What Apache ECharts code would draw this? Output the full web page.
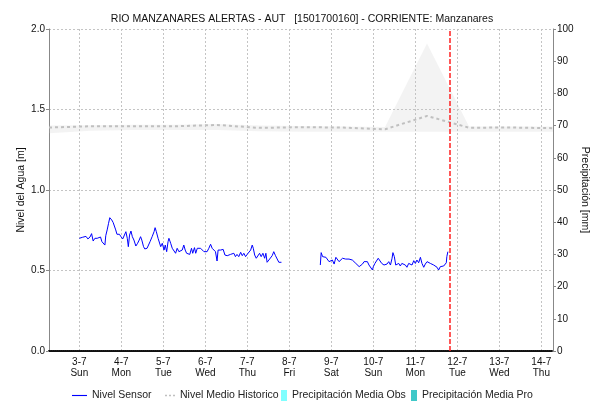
<!DOCTYPE html>
<html>
<head>
<meta charset="utf-8">
<title>RIO MANZANARES ALERTAS - AUT</title>
<script src="https://cdn.jsdelivr.net/npm/echarts@6/dist/echarts.min.js"></script>
<style>
  html, body { margin: 0; padding: 0; background: #fff; }
  #chart { width: 590px; height: 401px; }
</style>
</head>
<body>
<div id="chart"></div>
<script>
// Sensor level: hours since 3-7 00:00 and level in metres (null = no data)
const sensorHours = [
  0, 1.7, 2.7, 3.8, 4.9, 6.1, 7.0, 7.9, 8.9, 10.2, 11.3, 12.1, 12.9, 13.6, 14.0, 14.6, 15.1, 15.9, 16.7, 17.4,
  18.0, 18.5, 19.3, 20.1, 20.8, 21.5, 22.9, 23.8, 24.8, 25.7, 26.6, 27.4, 28.0, 28.7, 29.5, 30.3, 31.2, 32.3, 33.3, 34.2,
  35.0, 35.7, 36.7, 37.4, 38.7, 40.4, 41.6, 42.7, 43.3, 44.0, 45.0, 46.0, 46.5, 47.4, 48.4, 49.1, 49.9, 50.7, 51.2, 52.2,
  53.1, 54.1, 55.0, 55.9, 56.9, 57.9, 58.8, 59.7, 60.5, 61.3, 62.2, 63.1, 64.1, 64.8, 65.8, 66.5, 67.4, 68.3, 69.3, 70.2,
  71.2, 72.1, 73.0, 74.0, 75.0, 75.9, 76.8, 77.8, 78.7, 79.3, 80.7, 82.2, 83.2, 84.5, 85.4, 86.4, 87.3, 88.3, 89.2, 90.1,
  91.1, 92.2, 93.1, 94.0, 95.0, 95.9, 96.9, 97.9, 98.8, 99.4, 100.2, 101.1, 102.1, 103.0, 103.9, 104.9, 105.9, 106.6, 107.3, 108.3,
  109.3, 110.2, 111.1, 112.1, 113.0, 114.0, 115.0, 115.5,
  126,
  137.7, 138.2, 139.0, 139.9, 140.9, 141.8, 142.7, 143.7, 144.6, 145.6, 146.6, 147.5, 148.4, 149.4, 150.4, 151.3, 152.2, 153.2, 154.1, 155.1,
  156.0, 157.0, 158.0, 159.0, 159.9, 160.8, 161.8, 162.7, 163.7, 164.6, 165.5, 166.5, 167.5, 168.0, 168.9, 169.9, 170.8, 171.9, 172.8, 174.1,
  175.8, 176.8, 177.8, 178.7, 179.2, 180.0, 180.8, 181.5, 182.5, 183.4, 184.3, 185.3, 186.3, 187.2, 188.2, 189.2, 190.1, 191.1, 192.0, 192.9,
  193.9, 194.9, 195.8, 196.8, 197.7, 198.7, 199.7, 200.6, 201.5, 202.5, 203.5, 204.4, 205.3, 206.3, 207.2, 208.2, 209.1, 209.7, 210.0, 210.6
];
const sensorLevel = [
  0.700, 0.706, 0.700, 0.712, 0.696, 0.708, 0.729, 0.683, 0.700, 0.700, 0.689, 0.708, 0.679, 0.671, 0.689, 0.658, 0.716, 0.752, 0.793, 0.828,
  0.840, 0.814, 0.799, 0.799, 0.752, 0.725, 0.725, 0.710, 0.696, 0.700, 0.741, 0.700, 0.648, 0.720, 0.745, 0.710, 0.689, 0.652, 0.669, 0.689,
  0.710, 0.689, 0.648, 0.634, 0.638, 0.679, 0.710, 0.741, 0.766, 0.741, 0.700, 0.689, 0.648, 0.669, 0.627, 0.658, 0.617, 0.679, 0.700, 0.669,
  0.638, 0.627, 0.607, 0.638, 0.617, 0.617, 0.627, 0.658, 0.627, 0.607, 0.617, 0.600, 0.638, 0.607, 0.642, 0.607, 0.638, 0.642, 0.638, 0.627,
  0.617, 0.627, 0.617, 0.638, 0.663, 0.638, 0.627, 0.617, 0.559, 0.627, 0.627, 0.631, 0.596, 0.592, 0.586, 0.600, 0.596, 0.607, 0.586, 0.600,
  0.586, 0.613, 0.592, 0.607, 0.586, 0.600, 0.592, 0.627, 0.658, 0.638, 0.596, 0.576, 0.586, 0.607, 0.586, 0.607, 0.576, 0.607, 0.551, 0.565,
  0.576, 0.592, 0.617, 0.592, 0.580, 0.551, 0.551, 0.551,
  null,
  0.534, 0.611, 0.586, 0.576, 0.582, 0.576, 0.555, 0.544, 0.565, 0.540, 0.582, 0.576, 0.555, 0.565, 0.576, 0.565, 0.571, 0.565, 0.571, 0.576,
  0.565, 0.555, 0.544, 0.534, 0.524, 0.534, 0.540, 0.555, 0.565, 0.555, 0.534, 0.524, 0.503, 0.524, 0.544, 0.555, 0.576, 0.565, 0.544, 0.534,
  0.540, 0.555, 0.534, 0.576, 0.611, 0.586, 0.534, 0.524, 0.544, 0.528, 0.544, 0.540, 0.534, 0.520, 0.544, 0.540, 0.534, 0.561, 0.544, 0.565,
  0.548, 0.582, 0.544, 0.520, 0.540, 0.555, 0.548, 0.544, 0.540, 0.534, 0.528, 0.520, 0.503, 0.524, 0.514, 0.528, 0.524, 0.548, 0.586, 0.617
];

// Historical daily reference (06:40 each day): mean level and min/max band
const histDays = ['2022-07-02', '2022-07-03', '2022-07-04', '2022-07-05', '2022-07-06', '2022-07-07', '2022-07-08',
                  '2022-07-09', '2022-07-10', '2022-07-11', '2022-07-12', '2022-07-13', '2022-07-14'];
const histMean = [1.388, 1.396, 1.396, 1.396, 1.404, 1.386, 1.390, 1.388, 1.377, 1.460, 1.387, 1.388, 1.384];
const histLow  = [1.352, 1.368, 1.372, 1.372, 1.372, 1.365, 1.362, 1.362, 1.362, 1.362, 1.362, 1.362, 1.362];
const histHigh = [1.400, 1.402, 1.405, 1.405, 1.410, 1.400, 1.398, 1.395, 1.392, 1.910, 1.395, 1.395, 1.395];

// Precipitation series (no values in this period)
const precipObs = [];
const precipPro = [];

// Axis tick labels
const levelTicks = ['0.0', '0.5', '1.0', '1.5', '2.0'];
const weekDays = ['Sun', 'Mon', 'Tue', 'Wed', 'Thu', 'Fri', 'Sat'];

const HOUR = 3600 * 1000;
const base = new Date(2022, 6, 3, 0, 0).getTime();
const xMin = new Date(2022, 6, 2, 6, 40).getTime();
const xMax = new Date(2022, 6, 14, 6, 40).getTime();
const nowTime = new Date(2022, 6, 11, 19, 35).getTime();

function dayTime(s) {
  const p = s.split('-').map(Number);
  return new Date(p[0], p[1] - 1, p[2], 6, 40).getTime();
}

const sensorData = sensorHours.map((h, i) => [base + h * HOUR, sensorLevel[i]]);
const meanData = histDays.map((d, i) => [dayTime(d), histMean[i]]);
const lowData = histDays.map((d, i) => [dayTime(d), histLow[i]]);
const spanData = histDays.map((d, i) => [dayTime(d), +(histHigh[i] - histLow[i]).toFixed(3)]);

const FONT = 'Liberation Sans, Arial, sans-serif';
const chart = echarts.init(document.getElementById('chart'), null, { renderer: 'canvas' });

const legendBase = {
  top: 390, orient: 'horizontal', itemGap: 4, padding: 0,
  textStyle: { fontSize: 10.5, color: '#222', fontFamily: FONT }
};

// legend glyphs: a solid stroke and a dashed stroke
const solidStroke = 'path://M0,0h16v1.2h-16z';
const dashedStroke = 'path://M0,0h2v1.5h-2z M4,0h2v1.5h-2z M8,0h2v1.5h-2z';

chart.setOption({
  animation: false,
  backgroundColor: '#fff',
  textStyle: { fontFamily: FONT },
  title: {
    text: 'RIO MANZANARES ALERTAS - AUT   [1501700160] - CORRIENTE: Manzanares',
    left: 297, top: 9, textAlign: 'center',
    textStyle: { fontSize: 10.5, fontWeight: 'normal', color: '#111', fontFamily: FONT }
  },
  legend: [
    Object.assign({}, legendBase, { left: 72, itemWidth: 15, itemHeight: 1.2, data: [{ name: 'Nivel Sensor', icon: solidStroke }] }),
    Object.assign({}, legendBase, { left: 165, itemWidth: 10, itemHeight: 1.5, data: [{ name: 'Nivel Medio Historico', icon: dashedStroke }] }),
    Object.assign({}, legendBase, { left: 281, itemWidth: 6, itemHeight: 11, data: [{ name: 'Precipitación Media Obs', icon: 'rect' }] }),
    Object.assign({}, legendBase, { left: 411, itemWidth: 6, itemHeight: 11, data: [{ name: 'Precipitación Media Pro', icon: 'rect' }] })
  ],
  grid: { left: 49, right: 37, top: 29, bottom: 50, containLabel: false, outerBoundsMode: 'none' },
  xAxis: {
    type: 'time',
    min: xMin, max: xMax,
    splitNumber: 12,
    axisLine: { show: true, lineStyle: { color: '#111', width: 2, type: [1, 1] } },
    axisTick: { show: false },
    splitLine: { show: true, lineStyle: { color: '#c4c4c4', width: 1, type: [2, 2] } },
    axisLabel: {
      fontSize: 10, color: '#111', lineHeight: 11, margin: 6, hideOverlap: false,
      formatter: function (v) {
        const d = new Date(v);
        if (d.getHours() !== 0 || d.getMinutes() !== 0) return '';
        return d.getDate() + '-' + (d.getMonth() + 1) + '\n' + weekDays[d.getDay()];
      }
    }
  },
  yAxis: [
    {
      type: 'value', position: 'left', min: 0, max: 2, interval: 0.5,
      name: 'Nivel del Agua [m]', nameLocation: 'middle', nameGap: 22, nameMoveOverlap: false,
      nameTextStyle: { fontSize: 10.5, color: '#111', fontFamily: FONT },
      axisLine: { show: true, lineStyle: { color: '#888', width: 1 } },
      axisTick: { show: true, length: 3, lineStyle: { color: '#888' } },
      axisLabel: {
        fontSize: 10, color: '#111', margin: 4,
        formatter: function (v) { return levelTicks[Math.round(v / 0.5)]; }
      },
      splitLine: { show: true, lineStyle: { color: '#c4c4c4', width: 1, type: [2, 2] } }
    },
    {
      type: 'value', position: 'right', min: 0, max: 100, interval: 10,
      name: 'Precipitación [mm]', nameLocation: 'middle', nameGap: 26, nameRotate: -90, nameMoveOverlap: false,
      nameTextStyle: { fontSize: 10.5, color: '#111', fontFamily: FONT },
      axisLine: { show: true, lineStyle: { color: '#888', width: 1 } },
      axisTick: { show: true, length: 3, lineStyle: { color: '#888' } },
      axisLabel: { fontSize: 10, color: '#111', margin: 4 },
      splitLine: { show: false }
    }
  ],
  series: [
    {
      name: 'histLow', type: 'line', stack: 'band', data: lowData,
      symbol: 'none', lineStyle: { opacity: 0 }, silent: true, z: 1
    },
    {
      name: 'histBand', type: 'line', stack: 'band', data: spanData,
      symbol: 'none', lineStyle: { opacity: 0 },
      areaStyle: { color: 'rgba(200,200,200,0.3)', origin: 'auto' }, silent: true, z: 1
    },
    {
      name: 'Nivel Medio Historico', type: 'line', data: meanData,
      symbol: 'none', color: '#c0c0c0',
      lineStyle: { color: '#c0c0c0', width: 2, type: [3, 3] }, z: 2
    },
    {
      name: 'Precipitación Media Obs', type: 'line', yAxisIndex: 1, data: precipObs,
      symbol: 'none', color: '#80ffff', itemStyle: { color: '#80ffff' }
    },
    {
      name: 'Precipitación Media Pro', type: 'line', yAxisIndex: 1, data: precipPro,
      symbol: 'none', color: '#40c8c8', itemStyle: { color: '#40c8c8' }
    },
    {
      name: 'Nivel Sensor', type: 'line', data: sensorData,
      symbol: 'none', connectNulls: false, color: '#0000ff',
      lineStyle: { color: '#0000ff', width: 1 }, z: 3,
      markLine: {
        silent: true, symbol: 'none', label: { show: false },
        lineStyle: { color: '#ff2020', width: 1.5, type: [5, 2] },
        data: [{ xAxis: nowTime }]
      }
    }
  ]
});
</script>
</body>
</html>
